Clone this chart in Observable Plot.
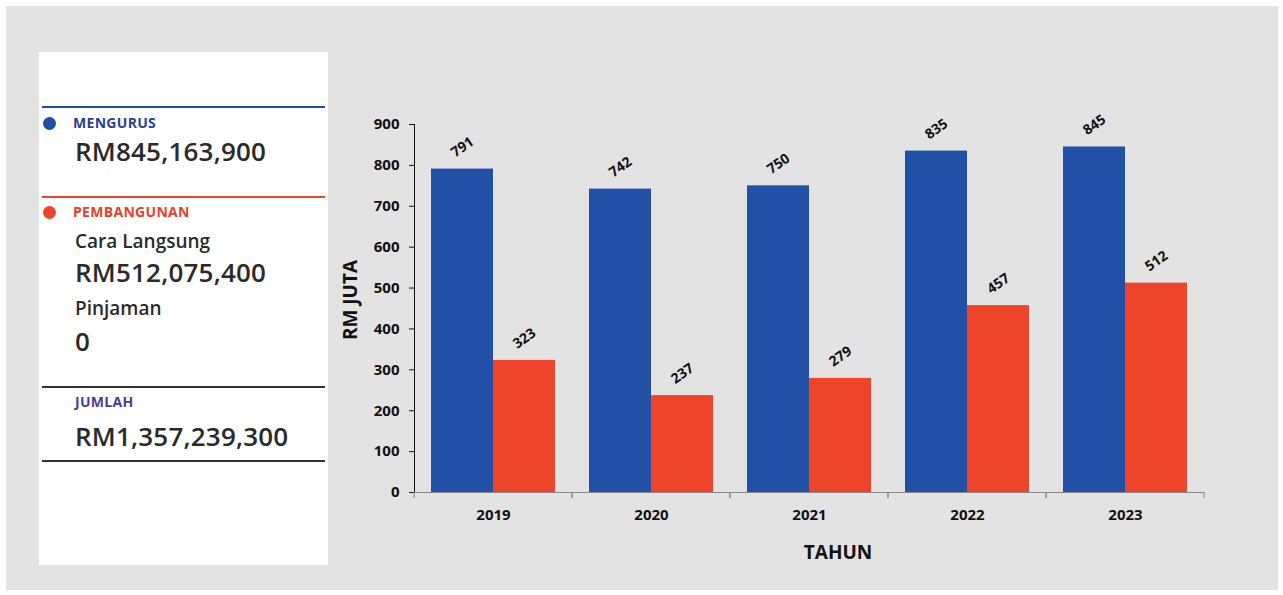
<!DOCTYPE html>
<html><head><meta charset="utf-8">
<script src="https://cdn.jsdelivr.net/npm/d3@7"></script>
<script src="https://cdn.jsdelivr.net/npm/@observablehq/plot@0.6"></script>
<style>
html,body{margin:0;padding:0;background:#fff;}
#page{position:relative;width:1283px;height:595px;overflow:hidden;font-family:"Open Sans",sans-serif;color:#222;}
#bg{position:absolute;left:6px;top:6px;width:1272px;height:584px;background:#e3e3e3;}
#card{position:absolute;left:39px;top:52px;width:289px;height:513px;background:#fff;}
.t{position:absolute;white-space:nowrap;line-height:1;}
.hd{font-size:14px;font-weight:700;letter-spacing:0.3px;}
.big{font-size:26px;font-weight:600;letter-spacing:0.2px;color:#2a2a2a;}
.mid{font-size:19px;font-weight:600;color:#2a2a2a;}
.ln{position:absolute;left:42px;width:283px;height:2px;}
.dot{position:absolute;width:13px;height:13px;border-radius:50%;}
#chart{position:absolute;left:330px;top:100px;}
#ylab{position:absolute;left:350px;top:300px;transform:translate(-50%,-50%) rotate(-90deg);font-size:19px;font-weight:700;color:#111;white-space:nowrap;line-height:1;}
#xlab{position:absolute;left:838px;top:552px;transform:translate(-50%,-50%);font-size:19px;font-weight:700;color:#111;white-space:nowrap;line-height:1;}
</style></head>
<body>
<div id="page">
  <div id="bg"></div>
  <div id="card"></div>
  <div class="ln" style="top:106px;background:#1f4ea3"></div>
  <div class="dot" style="left:43px;top:117px;background:#1f4ea3"></div>
  <div class="t hd" style="left:73px;top:115.6px;color:#2b3f96">MENGURUS</div>
  <div class="t big" style="left:75px;top:137.5px">RM845,163,900</div>
  <div class="ln" style="top:196px;background:#ee4429"></div>
  <div class="dot" style="left:43px;top:206px;background:#ee4429"></div>
  <div class="t hd" style="left:73px;top:204.6px;color:#e8402a">PEMBANGUNAN</div>
  <div class="t mid" style="left:75px;top:231.7px">Cara Langsung</div>
  <div class="t big" style="left:75px;top:258.5px">RM512,075,400</div>
  <div class="t mid" style="left:75px;top:298.7px">Pinjaman</div>
  <div class="t big" style="left:75px;top:327.5px">0</div>
  <div class="ln" style="top:386px;background:#333"></div>
  <div class="t hd" style="left:75px;top:394.6px;color:#4b3c9c">JUMLAH</div>
  <div class="t big" style="left:75px;top:422.5px">RM1,357,239,300</div>
  <div class="ln" style="top:460px;background:#333"></div>
  <div id="chart"></div>
  <div id="ylab">RM JUTA</div>
  <div id="xlab">TAHUN</div>
</div>
<script>
const years = ["2019", "2020", "2021", "2022", "2023"];
const mengurus = [791, 742, 750, 835, 845];
const pembangunan = [323, 237, 279, 457, 512];
const seriesNames = ["Mengurus", "Pembangunan"];
const seriesColors = ["#2150a6", "#ee4429"];

const data = years.flatMap((yr, i) => [
  {year: yr, series: seriesNames[0], value: mengurus[i]},
  {year: yr, series: seriesNames[1], value: pembangunan[i]}
]);

function boundaryTicks(...args) {
  const d = args.find(a => a && typeof a === "object" && "marginLeft" in a && "width" in a);
  const y0 = d.height - d.marginBottom;
  const g = d3.create("svg:g").attr("stroke", "#888").attr("stroke-width", 1);
  for (const x of [d.marginLeft, d.width - d.marginRight]) {
    g.append("line").attr("x1", x).attr("x2", x).attr("y1", y0).attr("y2", y0 + 6);
  }
  return g.node();
}

const chart = Plot.plot({
  width: 900,
  height: 460,
  marginLeft: 84,
  marginRight: 26,
  marginTop: 24,
  marginBottom: 68,
  style: {background: "transparent", fontFamily: "Open Sans", fontSize: "15px", fontWeight: "bold", color: "#111", overflow: "visible"},
  fx: {domain: years, padding: 0, label: null, axis: "bottom", tickSize: 0, tickPadding: 17},
  x: {domain: seriesNames, paddingInner: 0, paddingOuter: 0.264, axis: null},
  y: {domain: [0, 900], ticks: 9, tickSize: 5, tickPadding: 10, label: null, line: true},
  color: {domain: seriesNames, range: seriesColors},
  marks: [
    Plot.barY(data, {fx: "year", x: "series", y: "value", fill: "series"}),
    Plot.text(data, {fx: "year", x: "series", y: "value", text: d => String(d.value), rotate: -35, dy: -22, fontSize: 14, fontWeight: "bold", fill: "#111"}),
    Plot.ruleY([0], {stroke: "#888"}),
    boundaryTicks
  ]
});
document.getElementById("chart").appendChild(chart);
</script>
</body></html>
